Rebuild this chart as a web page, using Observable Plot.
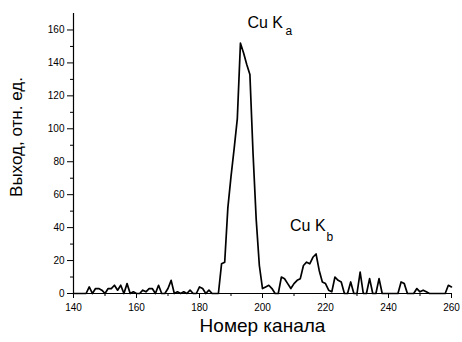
<!DOCTYPE html>
<html>
<head>
<meta charset="utf-8">
<script src="https://cdn.jsdelivr.net/npm/d3@7"></script>
<script src="https://cdn.jsdelivr.net/npm/@observablehq/plot@0.6"></script>
<style>
  html, body { margin: 0; padding: 0; background: #fff; }
</style>
</head>
<body>
<div id="chart"></div>
<script>
// Channel numbers 140..260
const channelStart = 140;
const counts = [
  0,0,0,0,0,4,0,3,3,2,        // 140-149
  0,3,3,5,2,5,0,6,0,1,        // 150-159
  0,0,2,1,3,3,0,5,0,0,        // 160-169
  3,8,0,1,0,1,0,2,0,0,        // 170-179
  4,3,0,2,0,0,0,18,19,52,     // 180-189
  71,88,106,152,146,139,133,85,45,17, // 190-199
  3,4,5,3,0,0,10,9,6,3,       // 200-209
  6,8,9,17,19,18,22,24,14,7,  // 210-219
  6,2,1,10,8,7,0,0,7,0,       // 220-229
  0,13,0,0,9,0,0,9,0,0,       // 230-239
  0,0,0,0,7,6,0,0,0,3,        // 240-249
  1,2,1,0,0,0,0,0,0,5,        // 250-259
  4                           // 260
];
const xTicks = [140, 160, 180, 200, 220, 240, 260];
const xMinor = [150, 170, 190, 210, 230, 250];
const yTicks = [0, 20, 40, 60, 80, 100, 120, 140, 160];
const yMinor = [10, 30, 50, 70, 90, 110, 130, 150];
const peakLabels = [
  {name: "Cu K", sub: "a", from: 185, to: 200},
  {name: "Cu K", sub: "b", from: 205, to: 225}
];
const xLabel = "Номер канала";
const yLabel = "Выход, отн. ед.";

const data = counts.map((v, i) => ({ch: channelStart + i, v}));
const peaks = peakLabels.map(p => {
  const seg = data.filter(d => d.ch >= p.from && d.ch <= p.to);
  const m = seg.reduce((a, b) => (b.v > a.v ? b : a));
  return {...p, ch: m.ch, v: m.v};
});

const font = "'Liberation Sans', Arial, Helvetica, sans-serif";

const chart = Plot.plot({
  width: 462,
  height: 342,
  marginLeft: 73,
  marginRight: 11,
  marginTop: 13,
  marginBottom: 49,
  style: {fontFamily: font, background: "#fff", color: "#000", overflow: "visible"},
  x: {domain: [140, 260]},
  y: {domain: [0, 170]},
  marks: [
    Plot.axisY({ticks: yTicks, tickSize: 6, tickPadding: 3, fontSize: 10, label: null}),
    Plot.axisY({ticks: yMinor, tickSize: 3, tickFormat: () => "", label: null}),
    Plot.axisX({ticks: xTicks, tickSize: 5, tickPadding: 5, fontSize: 10, label: null}),
    Plot.axisX({ticks: xMinor, tickSize: 3, tickFormat: () => "", label: null}),
    Plot.ruleX([140], {strokeWidth: 1.2}),
    Plot.ruleY([0], {strokeWidth: 1.2}),
    Plot.line(data, {x: "ch", y: "v", stroke: "#000", strokeWidth: 1.7, strokeLinejoin: "round"}),
    // Peak labels
    Plot.text([peaks[0]], {x: "ch", y: "v", text: "name", dx: 7, dy: -20, textAnchor: "start", fontSize: 16}),
    Plot.text([peaks[0]], {x: "ch", y: "v", text: "sub", dx: 45, dy: -12, textAnchor: "start", fontSize: 12}),
    Plot.text([peaks[1]], {x: "ch", y: "v", text: "name", dx: -26, dy: -28.5, textAnchor: "start", fontSize: 16}),
    Plot.text([peaks[1]], {x: "ch", y: "v", text: "sub", dx: 10.5, dy: -17, textAnchor: "start", fontSize: 12}),
    // Axis titles
    Plot.text([xLabel], {frameAnchor: "bottom", dy: 38, fontSize: 19}),
    Plot.text([yLabel], {frameAnchor: "left", textAnchor: "middle", dx: -57, dy: -16.5, rotate: -90, fontSize: 17})
  ]
});
document.getElementById("chart").appendChild(chart);
</script>
</body>
</html>
